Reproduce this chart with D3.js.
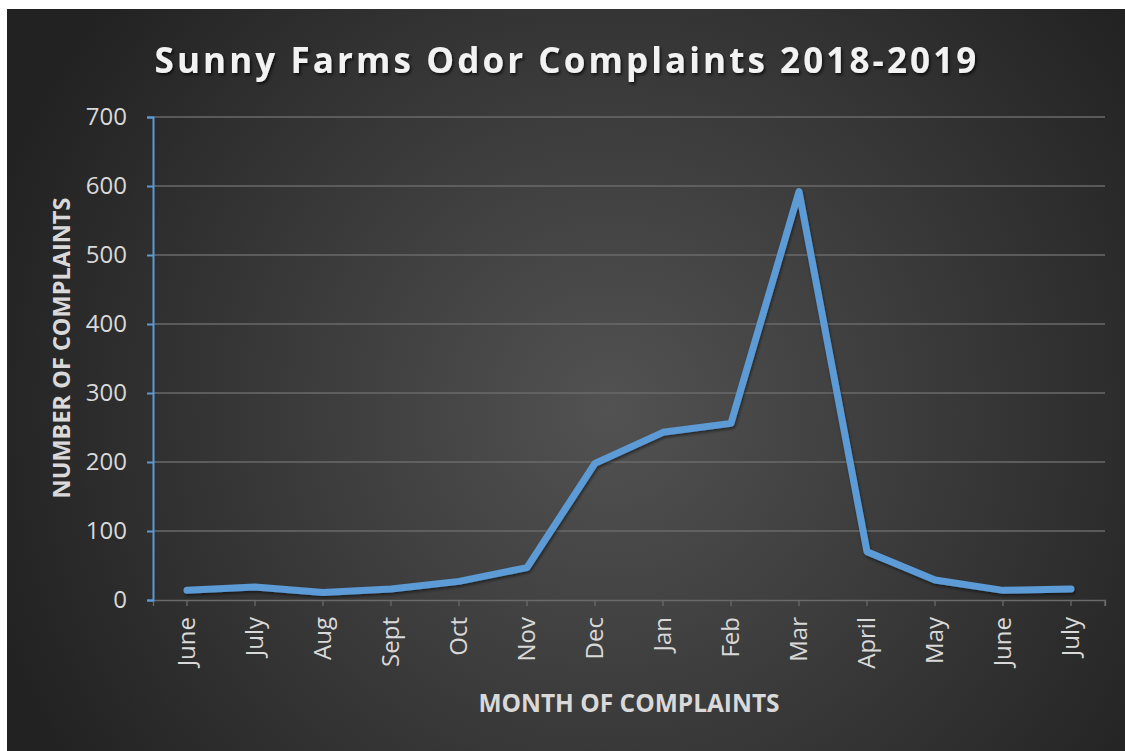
<!DOCTYPE html>
<html><head><meta charset="utf-8">
<script src="https://cdn.jsdelivr.net/npm/d3@7"></script>
<style>html,body{margin:0;padding:0;background:#fff;}svg{display:block;}</style>
</head><body>
<script>
const categories = ["June","July","Aug","Sept","Oct","Nov","Dec","Jan","Feb","Mar","April","May","June","July"];
const complaints = [14, 19, 11, 16, 27, 47, 198, 243, 256, 592, 70, 29, 14, 16];
const yTicks = [0,100,200,300,400,500,600,700];
const titleText = "Sunny Farms Odor Complaints 2018-2019";
const yTitle = "NUMBER OF COMPLAINTS";
const xTitle = "MONTH OF COMPLAINTS";

const W = 1125, H = 751;
const svg = d3.select("body").append("svg").attr("width", W).attr("height", H);
const defs = svg.append("defs");
const rg = defs.append("radialGradient").attr("id","bg")
  .attr("gradientUnits","userSpaceOnUse").attr("cx",610).attr("cy",410).attr("r",650);
rg.append("stop").attr("offset","0%").attr("stop-color","#525252");
rg.append("stop").attr("offset","100%").attr("stop-color","#222222");
const sh = defs.append("filter").attr("id","sh").attr("x","-10%").attr("y","-10%").attr("width","120%").attr("height","140%");
sh.append("feDropShadow").attr("dx",1.5).attr("dy",2).attr("stdDeviation",1.5).attr("flood-color","#000").attr("flood-opacity",0.7);
const lsh = defs.append("filter").attr("id","lsh").attr("x","-5%").attr("y","-5%").attr("width","110%").attr("height","110%");
lsh.append("feDropShadow").attr("dx",1).attr("dy",2).attr("stdDeviation",1.5).attr("flood-color","#000").attr("flood-opacity",0.5);

svg.append("rect").attr("x",7).attr("y",9).attr("width",W-7).attr("height",H-9).attr("fill","url(#bg)");

const x0 = 153, x1 = 1105, yTop = 117, yBot = 600;
const x = d3.scaleBand().domain(d3.range(categories.length)).range([x0, x1]);
const y = d3.scaleLinear().domain([0,700]).range([yBot, yTop]);

// gridlines
svg.append("g").selectAll("line").data(yTicks.filter(d=>d>0)).join("line")
  .attr("x1",x0).attr("x2",x1).attr("y1",d=>y(d)).attr("y2",d=>y(d))
  .attr("stroke","#6a6a6a").attr("stroke-width",1.3);

// x axis
const xAxis = d3.axisBottom(x).tickSize(6).tickFormat(i=>categories[i]);
const gx = svg.append("g").attr("transform",`translate(0,${yBot})`).call(xAxis);
gx.select(".domain").attr("stroke","#6a6a6a").attr("stroke-width",1.3);
gx.selectAll(".tick line").attr("stroke","#6a6a6a").attr("stroke-width",1.3);
gx.append("line").attr("x1",x1).attr("x2",x1).attr("y1",0).attr("y2",6).attr("stroke","#6a6a6a").attr("stroke-width",1.3);
gx.selectAll(".tick text")
  .attr("transform","rotate(-90)")
  .attr("x",-17).attr("y",0).attr("dy","0.35em")
  .attr("text-anchor","end")
  .attr("fill","#d9d9d9").style("font-family","'Open Sans', sans-serif").style("font-size","24px");

// y axis
const yAxis = d3.axisLeft(y).tickValues(yTicks).tickSize(6).tickPadding(20);
const gy = svg.append("g").attr("transform",`translate(${x0},0)`).call(yAxis);
gy.select(".domain").attr("stroke","#5b9bd5").attr("stroke-width",2);
gy.selectAll(".tick line").attr("stroke","#5b9bd5").attr("stroke-width",2);
gy.selectAll(".tick text").attr("fill","#d9d9d9").style("font-family","'Open Sans', sans-serif").style("font-size","24px");

// line
const line = d3.line().x((d,i)=>x(i)+x.bandwidth()/2).y(d=>y(d));
svg.append("path").datum(complaints).attr("d",line)
  .attr("fill","none").attr("stroke","#5b9bd5").attr("stroke-width",7)
  .attr("stroke-linejoin","round").attr("stroke-linecap","round").attr("filter","url(#lsh)");

// titles
svg.append("text").attr("x",567).attr("y",73).attr("text-anchor","middle")
  .attr("fill","#f2f2f2").attr("filter","url(#sh)")
  .style("font-family","'Open Sans', sans-serif").style("font-weight","bold").style("font-size","35px").style("letter-spacing","3.1px")
  .text(titleText);
svg.append("text").attr("transform",`translate(70,348) rotate(-90)`).attr("text-anchor","middle")
  .attr("fill","#d9d9d9").style("font-family","'Open Sans', sans-serif").style("font-weight","bold").style("font-size","23.5px")
  .text(yTitle);
svg.append("text").attr("x",(x0+x1)/2).attr("y",712).attr("text-anchor","middle")
  .attr("fill","#d9d9d9").style("font-family","'Open Sans', sans-serif").style("font-weight","bold").style("font-size","24.5px")
  .text(xTitle);
</script>
</body></html>
